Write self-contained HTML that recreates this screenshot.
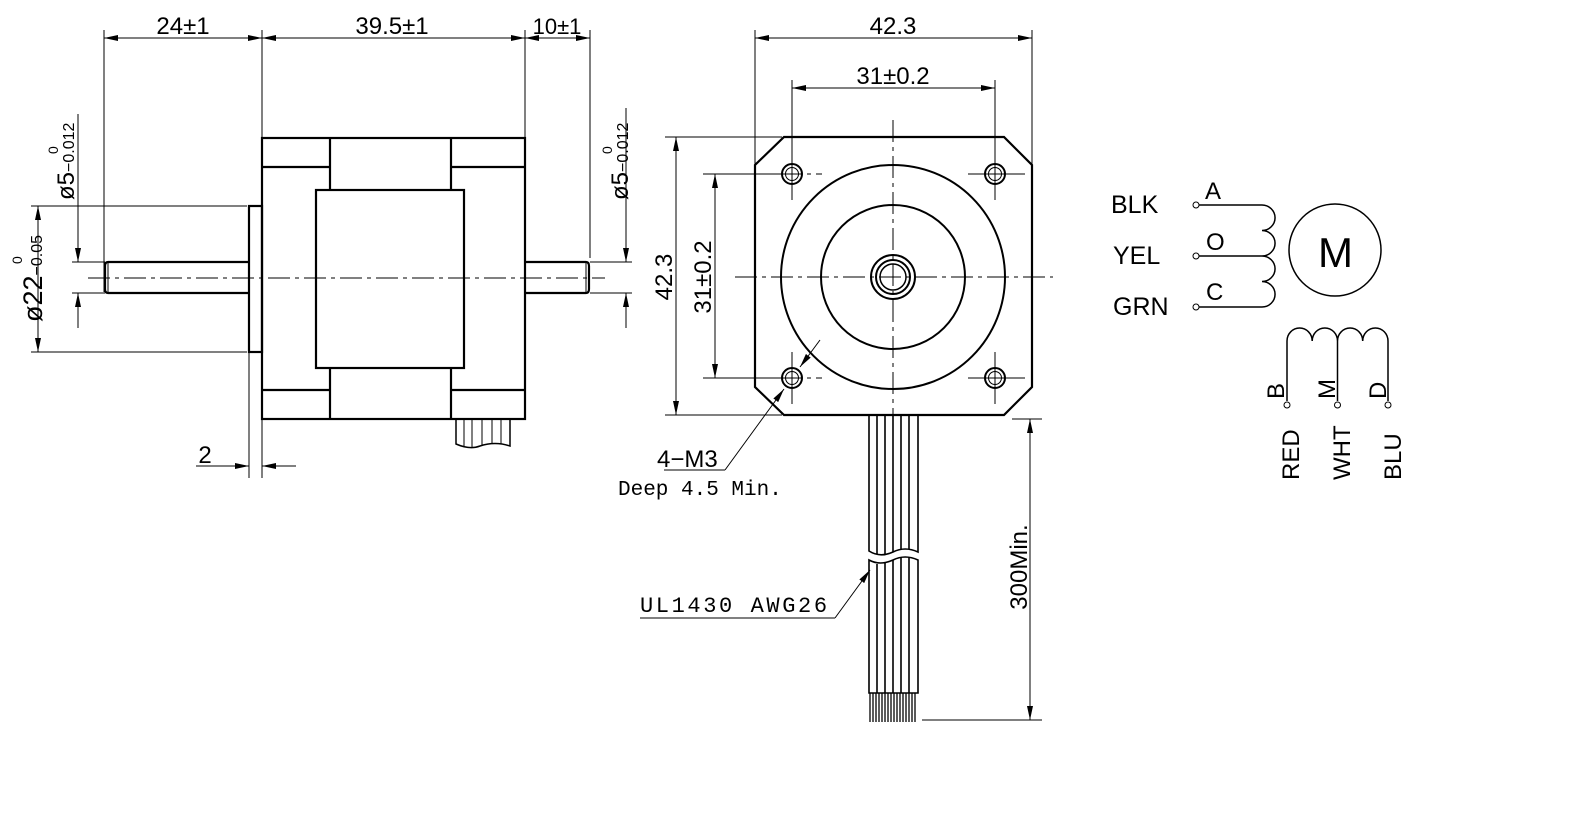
<!DOCTYPE html>
<html><head><meta charset="utf-8"><style>
html,body{margin:0;padding:0;background:#fff;width:1583px;height:824px;overflow:hidden}
svg{display:block}
text{font-family:"Liberation Sans",sans-serif;fill:#000}
.m{font-family:"Liberation Mono",monospace}
</style></head><body>
<svg width="1583" height="824" viewBox="0 0 1583 824" xmlns="http://www.w3.org/2000/svg">
<defs>
<marker id="a" viewBox="0 0 14 6" refX="14" refY="3" markerWidth="14" markerHeight="6" orient="auto-start-reverse" markerUnits="userSpaceOnUse"><path d="M0,0 L14,3 L0,6 z" fill="#000"/></marker>
</defs>
<g stroke="#000" fill="none" stroke-width="1">
<line x1="104" y1="30" x2="104" y2="292"/>
<line x1="262" y1="30" x2="262" y2="138"/>
<line x1="525" y1="30" x2="525" y2="138"/>
<line x1="590" y1="30" x2="590" y2="258"/>
<line x1="104" y1="38" x2="262" y2="38" marker-start="url(#a)" marker-end="url(#a)"/>
<line x1="262" y1="38" x2="525" y2="38" marker-start="url(#a)" marker-end="url(#a)"/>
<line x1="525" y1="38" x2="590" y2="38" marker-start="url(#a)" marker-end="url(#a)"/>
<g stroke-width="2.2">
<rect x="262" y="138" width="263" height="281"/>
<rect x="316" y="190" width="148" height="178"/>
<line x1="330" y1="138" x2="330" y2="190"/><line x1="451" y1="138" x2="451" y2="190"/>
<line x1="330" y1="368" x2="330" y2="419"/><line x1="451" y1="368" x2="451" y2="419"/>
<line x1="262" y1="167" x2="330" y2="167"/><line x1="451" y1="167" x2="525" y2="167"/>
<line x1="262" y1="390" x2="330" y2="390"/><line x1="451" y1="390" x2="525" y2="390"/>
<rect x="249" y="206" width="13" height="146"/>
<path d="M249,262 H108 Q105,262 105,266 V289 Q105,293 108,293 H249"/>
<path d="M525,262 H586 Q589,262 589,266 V289 Q589,293 586,293 H525"/>
</g>
<line x1="108" y1="262" x2="108" y2="293"/><line x1="586" y1="262" x2="586" y2="293"/>
<line x1="88" y1="278" x2="605" y2="278" stroke-dasharray="22,5,4,5"/>
<path d="M456,419 V444 Q470,450 480,446 Q495,441 510,446 V419" stroke-width="1.5"/>
<line x1="464" y1="419" x2="464" y2="447"/><line x1="472" y1="419" x2="472" y2="448"/><line x1="482" y1="419" x2="482" y2="446"/><line x1="492" y1="419" x2="492" y2="444"/><line x1="501" y1="419" x2="501" y2="444"/>
<line x1="31" y1="206" x2="247" y2="206"/><line x1="31" y1="352" x2="247" y2="352"/>
<line x1="38" y1="206" x2="38" y2="352" marker-start="url(#a)" marker-end="url(#a)"/>
<line x1="72" y1="262" x2="105" y2="262"/><line x1="72" y1="293" x2="105" y2="293"/>
<line x1="78" y1="114" x2="78" y2="262" marker-end="url(#a)"/>
<line x1="78" y1="328" x2="78" y2="293" marker-end="url(#a)"/>
<line x1="590" y1="262" x2="632" y2="262"/><line x1="590" y1="293" x2="632" y2="293"/>
<line x1="626" y1="108" x2="626" y2="262" marker-end="url(#a)"/>
<line x1="626" y1="328" x2="626" y2="293" marker-end="url(#a)"/>
<line x1="249" y1="352" x2="249" y2="478"/><line x1="262" y1="419" x2="262" y2="478"/>
<line x1="196" y1="466" x2="249" y2="466" marker-end="url(#a)"/>
<line x1="296" y1="466" x2="262" y2="466" marker-end="url(#a)"/>

<line x1="755" y1="30" x2="755" y2="164"/><line x1="1032" y1="30" x2="1032" y2="164"/>
<line x1="755" y1="38" x2="1032" y2="38" marker-start="url(#a)" marker-end="url(#a)"/>
<line x1="792" y1="80" x2="792" y2="170"/><line x1="995" y1="80" x2="995" y2="170"/>
<line x1="792" y1="88" x2="995" y2="88" marker-start="url(#a)" marker-end="url(#a)"/>
<line x1="665" y1="137" x2="782" y2="137"/><line x1="665" y1="415" x2="782" y2="415"/>
<line x1="676" y1="137" x2="676" y2="415" marker-start="url(#a)" marker-end="url(#a)"/>
<line x1="703" y1="174" x2="780" y2="174"/><line x1="703" y1="378" x2="780" y2="378"/>
<line x1="715" y1="174" x2="715" y2="378" marker-start="url(#a)" marker-end="url(#a)"/>
<path d="M784,137 H1004 L1032,165 V387 L1004,415 H784 L755,387 V165 Z" stroke-width="2.2"/>
<circle cx="893" cy="277" r="112" stroke-width="2"/>
<circle cx="893" cy="277" r="72" stroke-width="2"/>
<circle cx="893" cy="277" r="22" stroke-width="2"/>
<circle cx="893" cy="277" r="17" stroke-width="2"/>
<circle cx="893" cy="277" r="13" stroke-width="1.5"/>
<g stroke-width="2"><circle cx="792" cy="174" r="10"/><circle cx="995" cy="174" r="10"/><circle cx="792" cy="378" r="10"/><circle cx="995" cy="378" r="10"/></g>
<circle cx="792" cy="174" r="6.5"/><circle cx="995" cy="174" r="6.5"/><circle cx="792" cy="378" r="6.5"/><circle cx="995" cy="378" r="6.5"/>
<line x1="735" y1="277" x2="1053" y2="277" stroke-dasharray="22,5,4,5"/>
<line x1="893" y1="120" x2="893" y2="420" stroke-dasharray="22,5,4,5"/>
<line x1="708" y1="174" x2="822" y2="174" stroke-dasharray="22,5,4,5"/><line x1="968" y1="174" x2="1025" y2="174"/>
<line x1="708" y1="378" x2="822" y2="378" stroke-dasharray="22,5,4,5"/><line x1="968" y1="378" x2="1025" y2="378"/>
<line x1="792" y1="150" x2="792" y2="200"/><line x1="995" y1="150" x2="995" y2="200"/>
<line x1="792" y1="352" x2="792" y2="404"/><line x1="995" y1="352" x2="995" y2="404"/>
<line x1="820" y1="340" x2="800" y2="367" marker-end="url(#a)"/>
<line x1="725" y1="470" x2="784" y2="389" marker-end="url(#a)"/>
<line x1="664" y1="470" x2="725" y2="470"/>
<g stroke-width="1.6">
<path d="M868,415 H918"/>
<path d="M869,415 V551 Q880,558 893,552 Q905,546 918,552 V415"/>
<path d="M869,560 Q880,566 893,560 Q905,554 918,560 V693 H869 Z"/>
<line x1="877" y1="415" x2="877" y2="554"/><line x1="885" y1="415" x2="885" y2="554"/><line x1="893" y1="415" x2="893" y2="552"/><line x1="901" y1="415" x2="901" y2="549"/><line x1="909" y1="415" x2="909" y2="549"/>
<line x1="877" y1="564" x2="877" y2="693"/><line x1="885" y1="563" x2="885" y2="693"/><line x1="893" y1="560" x2="893" y2="693"/><line x1="901" y1="557" x2="901" y2="693"/><line x1="909" y1="557" x2="909" y2="693"/>
</g>
<g stroke-width="1.3">
<line x1="870" y1="693" x2="870" y2="722"/><line x1="873" y1="693" x2="873" y2="722"/><line x1="876" y1="693" x2="876" y2="722"/><line x1="879" y1="693" x2="879" y2="722"/><line x1="882" y1="693" x2="882" y2="722"/><line x1="885" y1="693" x2="885" y2="722"/><line x1="888" y1="693" x2="888" y2="722"/><line x1="891" y1="693" x2="891" y2="722"/><line x1="894" y1="693" x2="894" y2="722"/><line x1="897" y1="693" x2="897" y2="722"/><line x1="900" y1="693" x2="900" y2="722"/><line x1="903" y1="693" x2="903" y2="722"/><line x1="906" y1="693" x2="906" y2="722"/><line x1="909" y1="693" x2="909" y2="722"/><line x1="912" y1="693" x2="912" y2="722"/><line x1="915" y1="693" x2="915" y2="722"/>
</g>
<line x1="1012" y1="419" x2="1042" y2="419"/><line x1="922" y1="720" x2="1042" y2="720"/>
<line x1="1030" y1="419" x2="1030" y2="720" marker-start="url(#a)" marker-end="url(#a)"/>
<line x1="640" y1="618" x2="835" y2="618"/>
<line x1="835" y1="618" x2="870" y2="570" marker-end="url(#a)"/>

<circle cx="1196" cy="205" r="3"/><circle cx="1196" cy="256" r="3"/><circle cx="1196" cy="307" r="3"/>
<path d="M1199,205 H1262 A13,12.7 0 0 1 1262,230.5 A13,12.7 0 0 1 1262,256 A13,12.7 0 0 1 1262,281.5 A13,12.7 0 0 1 1262,307 H1199" stroke-width="1.5"/>
<line x1="1199" y1="256" x2="1262" y2="256" stroke-width="1.5"/>
<circle cx="1335" cy="250" r="46" stroke-width="1.5"/>
<path d="M1287,401 V341 A12.6,13 0 0 1 1312.2,341 A12.6,13 0 0 1 1337.5,341 A12.6,13 0 0 1 1362.7,341 A12.6,13 0 0 1 1388,341 V401" stroke-width="1.5"/>
<line x1="1337.5" y1="341" x2="1337.5" y2="401" stroke-width="1.5"/>
<circle cx="1287" cy="405" r="3"/><circle cx="1337.5" cy="405" r="3"/><circle cx="1388" cy="405" r="3"/>
</g>

<g style="font-size:24px">
<text x="183" y="34" text-anchor="middle">24±1</text>
<text x="392" y="34" text-anchor="middle">39.5±1</text>
<text x="557" y="34" text-anchor="middle" style="font-size:22px">10±1</text>
<text x="205" y="463" text-anchor="middle">2</text>
<text x="893" y="34" text-anchor="middle">42.3</text>
<text x="893" y="84" text-anchor="middle">31±0.2</text>
<text transform="translate(672,277) rotate(-90)" text-anchor="middle">42.3</text>
<text transform="translate(711,277) rotate(-90)" text-anchor="middle">31±0.2</text>
<text transform="translate(1027,567) rotate(-90)" text-anchor="middle">300Min.</text>
<text transform="translate(42,322) rotate(-90)" style="font-size:27px">ø22<tspan style="font-size:16px">−0.05</tspan></text>
<text transform="translate(42,322) rotate(-90)" x="58" y="-20" style="font-size:14px">0</text>
<text transform="translate(74,200) rotate(-90)">ø5<tspan style="font-size:16px">−0.012</tspan></text>
<text transform="translate(74,200) rotate(-90)" x="46" y="-16" style="font-size:14px">0</text>
<text transform="translate(628,200) rotate(-90)">ø5<tspan style="font-size:16px">−0.012</tspan></text>
<text transform="translate(628,200) rotate(-90)" x="46" y="-16" style="font-size:14px">0</text>
<text x="657" y="467">4−M3</text>
<text x="618" y="495" class="m" style="font-size:21px">Deep 4.5 Min.</text>
<text x="640" y="612" class="m" style="font-size:22px;letter-spacing:2.6px">UL1430 AWG26</text>
<text x="1111" y="213" style="font-size:25px">BLK</text>
<text x="1113" y="264" style="font-size:25px">YEL</text>
<text x="1113" y="315" style="font-size:25px">GRN</text>
<text x="1205" y="199">A</text>
<text x="1206" y="250">O</text>
<text x="1206" y="300">C</text>
<text x="1318" y="267" style="font-size:42px;font-weight:100">M</text>
<text transform="translate(1284,399) rotate(-90)">B</text>
<text transform="translate(1335,399) rotate(-90)">M</text>
<text transform="translate(1386,399) rotate(-90)">D</text>
<text transform="translate(1299,480) rotate(-90)">RED</text>
<text transform="translate(1350,480) rotate(-90)">WHT</text>
<text transform="translate(1401,480) rotate(-90)">BLU</text>
</g>
</svg>
</body></html>
